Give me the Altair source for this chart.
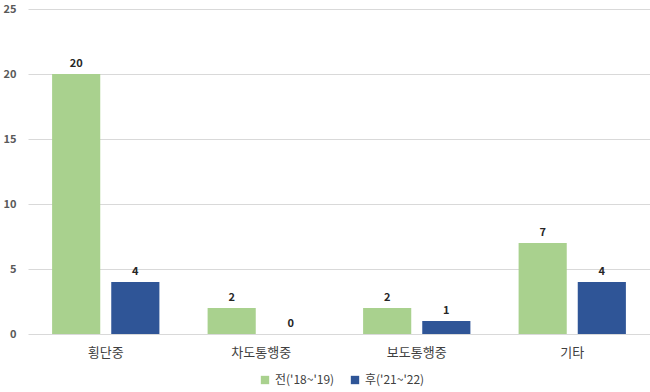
import altair as alt
import pandas as pd

categories = ["횡단중", "차도통행중", "보도통행중", "기타"]
series = ["전('18~'19)", "후('21~'22)"]
before = [20, 2, 2, 7]
after = [4, 0, 1, 4]
colors = ["#A9D18E", "#2F5597"]

rows = []
for c, b, a in zip(categories, before, after):
    rows.append({"cat": c, "series": series[0], "value": b})
    rows.append({"cat": c, "series": series[1], "value": a})
df = pd.DataFrame(rows)

FONT = "Noto Sans CJK KR"
yscale = alt.Scale(domain=[0, 25], nice=False)

base = alt.Chart(df).encode(
    x=alt.X("cat:N", sort=categories, title=None,
            scale=alt.Scale(paddingInner=0.31, paddingOuter=0.155),
            axis=alt.Axis(labelAngle=0, ticks=False, domain=False, labelFontSize=13,
                          labelColor="#404040", labelPadding=12, labelFont=FONT)),
    xOffset=alt.XOffset("series:N", sort=series,
                        scale=alt.Scale(paddingInner=0.186, paddingOuter=0)),
)

bars = base.mark_bar().encode(
    y=alt.Y("value:Q", title=None, scale=yscale,
            axis=alt.Axis(values=[0, 5, 10, 15, 20, 25], ticks=False, domain=False,
                          labelFontSize=11, labelFontWeight="bold", labelColor="#595959",
                          labelPadding=12, gridColor="#D9D9D9", labelFont=FONT)),
    color=alt.Color("series:N", sort=series,
                    scale=alt.Scale(domain=series, range=colors),
                    legend=alt.Legend(title=None, orient="none", legendX=231, legendY=365,
                                      direction="horizontal", symbolType="square",
                                      symbolSize=70, labelFontSize=12, labelColor="#404040",
                                      labelFont=FONT, columnPadding=14, symbolStrokeWidth=0)),
)

labels = base.mark_text(dy=-10, fontSize=11, fontWeight="bold", color="#262626", font=FONT).encode(
    y=alt.Y("value:Q", scale=yscale),
    text=alt.Text("value:Q"),
)

chart = (bars + labels).properties(
    width=622, height=325,
    autosize=alt.AutoSizeParams(type="none"),
    padding={"left": 28, "top": 9, "right": 0, "bottom": 58},
    background="white",
).configure_view(stroke=None)

chart.save("out.html", embed_options={"renderer": "svg", "actions": False})
